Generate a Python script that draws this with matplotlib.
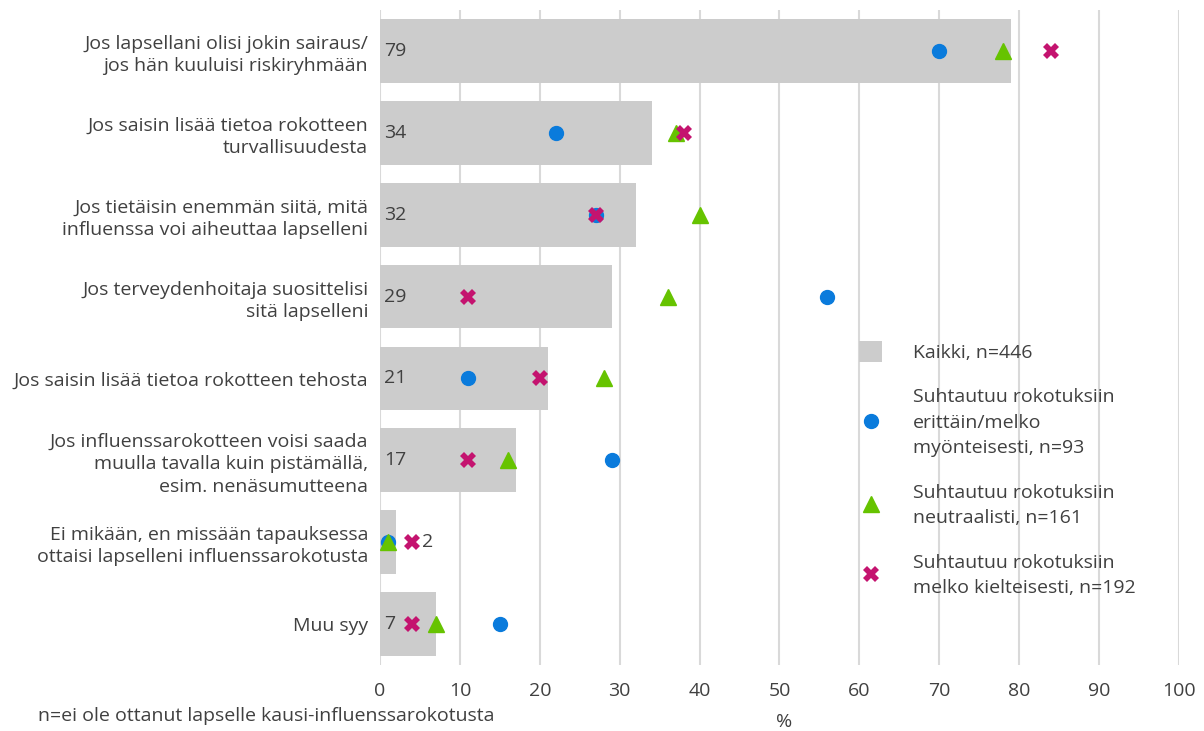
import matplotlib.pyplot as plt
from matplotlib.lines import Line2D
from matplotlib.patches import Patch

plt.rcParams['font.family'] = ['Open Sans', 'DejaVu Sans']

categories = [
    "Jos lapsellani olisi jokin sairaus/\njos hän kuuluisi riskiryhmään",
    "Jos saisin lisää tietoa rokotteen\nturvallisuudesta",
    "Jos tietäisin enemmän siitä, mitä\ninfluenssa voi aiheuttaa lapselleni",
    "Jos terveydenhoitaja suosittelisi\nsitä lapselleni",
    "Jos saisin lisää tietoa rokotteen tehosta",
    "Jos influenssarokotteen voisi saada\nmuulla tavalla kuin pistämällä,\nesim. nenäsumutteena",
    "Ei mikään, en missään tapauksessa\nottaisi lapselleni influenssarokotusta",
    "Muu syy",
]
kaikki = [79, 34, 32, 29, 21, 17, 2, 7]
myonteinen = [70, 22, 27, 56, 11, 29, 1, 15]
neutraali = [78, 37, 40, 36, 28, 16, 1, 7]
kielteinen = [84, 38, 27, 11, 20, 11, 4, 4]

legend_labels = [
    "Kaikki, n=446",
    "Suhtautuu rokotuksiin\nerittäin/melko\nmyönteisesti, n=93",
    "Suhtautuu rokotuksiin\nneutraalisti, n=161",
    "Suhtautuu rokotuksiin\nmelko kielteisesti, n=192",
]

text_col = "#404040"
bar_col = "#cccccc"
blue = "#0a7bdc"
green = "#66c300"
magenta = "#c4136f"
fs = 14

fig = plt.figure(figsize=(12.04, 7.31), dpi=100)
ax = fig.add_axes([0.3156, 0.0903, 0.6636, 0.896])

y = list(range(len(categories)))
ax.barh(y, kaikki, height=0.78, color=bar_col, zorder=2)
ax.plot(myonteinen, y, 'o', color=blue, markersize=10, zorder=3)
ax.plot(neutraali, y, '^', color=green, markersize=11, zorder=4)
ax.plot(kielteinen, y, 'X', color=magenta, markersize=11, markeredgewidth=0, zorder=5)

for i, v in enumerate(kaikki):
    xpos = 0.5 if v > 5 else 5.2
    ax.text(xpos, i, str(v), va='center', ha='left', fontsize=fs, color=text_col, zorder=6)

ax.set_xlim(0, 100)
ax.set_ylim(len(categories) - 0.5, -0.5)
ax.set_xticks(range(0, 101, 10))
ax.set_yticks(y)
ax.set_yticklabels(categories, fontsize=fs, color=text_col, linespacing=1.3)
ax.tick_params(axis='both', length=0)
ax.tick_params(axis='x', labelsize=fs, labelcolor=text_col, pad=12)
ax.tick_params(axis='y', pad=8.5)
ax.grid(axis='x', color='#d9d9d9', linewidth=1.5, zorder=0)
ax.set_axisbelow(True)
for s in ax.spines.values():
    s.set_visible(False)

handles = [
    Patch(facecolor=bar_col, edgecolor='none'),
    Line2D([], [], marker='o', color=blue, linestyle='none', markersize=10),
    Line2D([], [], marker='^', color=green, linestyle='none', markersize=11),
    Line2D([], [], marker='X', color=magenta, markeredgewidth=0, linestyle='none', markersize=11),
]
leg = ax.legend(handles, legend_labels, loc='upper left', bbox_to_anchor=(0.5775, 0.522),
                frameon=False, fontsize=fs, labelspacing=1.35, handlelength=1.2,
                handleheight=1.3, handletextpad=1.56)
for t in leg.get_texts():
    t.set_color(text_col)
    t.set_linespacing(1.55)

fig.text(784 / 1204, 1 - 722 / 731, "%", ha='center', va='center', fontsize=fs, color=text_col)
fig.text(38 / 1204, 1 - 716 / 731, "n=ei ole ottanut lapselle kausi-influenssarokotusta",
         ha='left', va='center', fontsize=fs, color=text_col)

fig.savefig("out.png", dpi=100)
